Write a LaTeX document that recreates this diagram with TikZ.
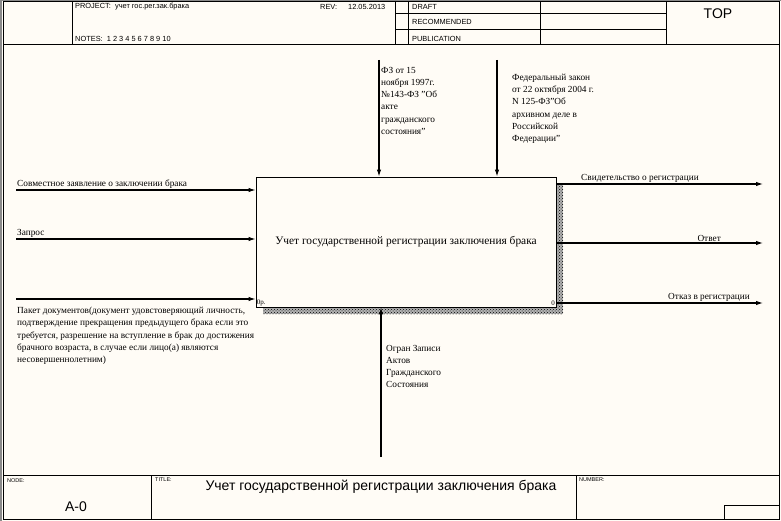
\documentclass[tikz,border=0pt]{standalone}
\usepackage{fontspec}
\setmainfont{Liberation Serif}
\newfontfamily\hdrfont{Liberation Sans}
\usetikzlibrary{arrows.meta,patterns}
\definecolor{fondo}{HTML}{FFFCF6}
\definecolor{bordo}{HTML}{8A8A8A}

\tikzset{
  freccia/.style={line width=1.1pt, -{Latex[length=7pt,width=4.5pt]}},
  etich/.style={font=\fontsize{9.3}{12.2}\selectfont, inner sep=1pt, align=left},
  intest/.style={font=\hdrfont\fontsize{7.4}{8}\selectfont, inner sep=0pt, anchor=west},
  piccolo/.style={font=\hdrfont\fontsize{5.5}{6}\selectfont, inner sep=0pt, anchor=north west},
  ombra/.style={pattern=crosshatch dots, pattern color=black},
}

\begin{document}
\begin{tikzpicture}[x=1pt,y=-1pt]
        \useasboundingbox (0,0) rectangle (781,521);
        \fill[fondo] (0,0) rectangle (781,521);

        % cornice
        \draw[bordo, line width=1.5pt] (0,0.5) -- (781,0.5);
        \draw[bordo, line width=2pt] (1,0) -- (1,521);
        \draw[line width=0.9pt] (3,1.5) rectangle (779,519);

        % Intestazione
        \draw (3,44) -- (779,44);
        \draw (72,1.5) -- (72,44);
        \foreach \xx in {395,408,540,666}
          \draw (\xx,1.5) -- (\xx,44);
        \draw (395,13) -- (666,13);
        \draw (395,29) -- (666,29);
        \node[intest] (proj) at (75,7) {PROJECT:\ \ учет гос.рег.зак.брака};
        \node[intest] (rev) at (320,7) {REV:};
        \node[intest] (data) at (348,7) {12.05.2013};
        \node[intest] (note) at (75,38.5) {NOTES:\ \ 1\ 2\ 3\ 4\ 5\ 6\ 7\ 8\ 9\ 10};
        \node[intest] (draft) at (412,7) {DRAFT};
        \node[intest] (racc) at (412,22) {RECOMMENDED};
        \node[intest] (pubb) at (412,38.5) {PUBLICATION};
        \node[font=\hdrfont\fontsize{14}{16}\selectfont, inner sep=0pt] (top) at (718,14) {TOP};

        % Piè di pagina
        \draw (3,475) -- (779,475);
        \draw (151,475) -- (151,519);
        \draw (576,475) -- (576,519);
        \draw (724,519) -- (724,505) -- (779,505);
        \node[piccolo] (nodo) at (7,478) {NODE:};
        \node[piccolo] (tit) at (155,478) {TITLE:};
        \node[piccolo] (num) at (579,478) {NUMBER:};
        \node[font=\hdrfont\fontsize{14}{16}\selectfont, inner sep=0pt] (a0) at (76,507)
          {A-0};
        \node[font=\hdrfont\fontsize{14}{16}\selectfont, inner sep=0pt] (titolo) at (381,487)
          {Учет государственной регистрации заключения брака};

        % Blocco A0 con ombra
        \fill[black!30] (556,184) rectangle (563,314);
        \fill[black!30] (263,307) rectangle (556,314);
        \fill[ombra] (556,184) rectangle (563,314);
        \fill[ombra] (263,307) rectangle (556,314);
        \node[draw, line width=0.9pt, fill=fondo, minimum width=300pt, minimum height=130pt,
          inner sep=0pt, font=\fontsize{11.4}{13}\selectfont] (blocco) at (406,242)
          {Учет государственной регистрации заключения брака};
        \node[font=\fontsize{7}{8}\selectfont, inner sep=1pt, anchor=south west] (num0)
          at (blocco.south west) {0р.};
        \node[font=\fontsize{7}{8}\selectfont, inner sep=1.5pt, anchor=south east] (num1)
          at (blocco.south east) {0};

        % Ingressi
        \coordinate (in1) at (16,190);
        \coordinate (in2) at (16,239);
        \coordinate (in3) at (16,299);
        \draw[freccia] (in1) -- (blocco.west |- in1);
        \draw[freccia] (in2) -- (blocco.west |- in2);
        \draw[freccia] (in3) -- (blocco.west |- in3);
        \node[etich, anchor=south west] (lin1) at (in1) {Совместное заявление о заключении брака};
        \node[etich, anchor=south west] (lin2) at (in2) {Запрос};
        \node[etich, anchor=north west] (lin3) at ([yshift=-7pt]in3)
          {Пакет документов(документ удовстоверяющий личность,\\
           подтверждение прекращения предыдущего брака если это\\
           требуется, разрешение на вступление в брак до достижения\\
           брачного возраста, в случае если лицо(а) являются\\
           несовершеннолетним)};

        % Controlli
        \coordinate (ct1) at (379,60);
        \coordinate (ct2) at (497,60);
        \draw[freccia] (ct1) -- (ct1 |- blocco.north);
        \draw[freccia] (ct2) -- (ct2 |- blocco.north);
        \node[etich, anchor=north west] (lct1) at (380,66)
          {ФЗ от 15\\ ноября 1997г.\\ №143-ФЗ "Об\\ акте\\ гражданского\\ состояния"};
        \node[etich, anchor=north west] (lct2) at (511,73)
          {Федеральный закон\\ от 22 октября 2004 г.\\ N 125-ФЗ"Об\\ архивном деле в\\
           Российской\\ Федерации"};

        % Uscite
        \coordinate (out1) at (763,184);
        \coordinate (out2) at (763,243);
        \coordinate (out3) at (763,303);
        \draw[freccia] (blocco.east |- out1) -- (out1);
        \draw[freccia] (blocco.east |- out2) -- (out2);
        \draw[freccia] (blocco.east |- out3) -- (out3);
        \node[etich, anchor=south west] (lout1) at (580,184) {Свидетельство о регистрации};
        \node[etich, anchor=south east] (lout2) at (722,243) {Ответ};
        \node[etich, anchor=south east] (lout3) at (751,303) {Отказ в регистрации};

        % Meccanismo
        \coordinate (mec) at (381,457);
        \draw[freccia] (mec) -- (mec |- blocco.south);
        \node[etich, anchor=north west] (lmec) at (385,344)
          {Огран Записи\\ Актов\\ Гражданского\\ Состояния};
\end{tikzpicture}
\end{document}
